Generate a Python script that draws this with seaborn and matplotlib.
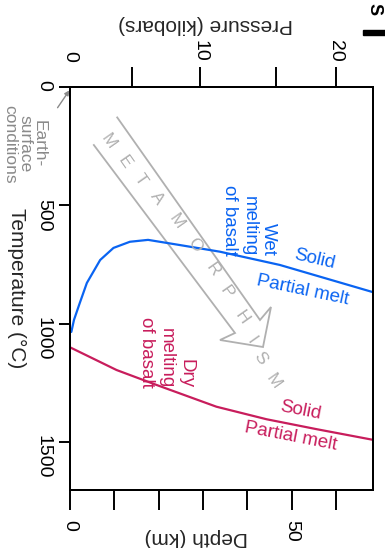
import matplotlib
matplotlib.use("Agg")

import pandas as pd
import matplotlib.pyplot as plt
import seaborn as sns
from matplotlib.patches import Polygon, Rectangle

# curvas de fusão do basalto (profundidade km, temperatura °C)
wet_depth = [0.3, 0.9, 2.2, 3.8, 6.8, 9.8, 13.5, 17.6, 24.8, 33.8, 47.3, 68.3]
wet_temp = [1035, 984, 913, 828, 731, 680, 654, 646, 668, 696, 752, 867]
dry_depth = [0, 10.5, 19.5, 33.0, 44.3, 55.6, 68.3]
dry_temp = [1100, 1196, 1259, 1351, 1404, 1446, 1491]

depth_ticks = [0, 10, 20, 30, 40, 50, 60]
depth_labels = ["0", "", "", "", "", "50", ""]
temp_ticks = [0, 500, 1000, 1500]
pressure_tick_depth = [0, 14, 29.3, 46.4, 59.9]
pressure_labels = ["0", "", "10", "", "20"]

BLUE = "#0a64f2"
RED = "#c81d5c"
GREY = "#b0b0b0"


def ref(x, y):
    """pixel da figura de referência -> fração dos eixos"""
    return ((x - 70) / 303, (490 - y) / 403)


sns.set_theme(style="ticks")
plt.rcParams["font.family"] = ["Liberation Sans", "DejaVu Sans"]
plt.rcParams["axes.edgecolor"] = "black"
plt.rcParams["xtick.color"] = "black"
plt.rcParams["ytick.color"] = "black"

df = pd.concat([
    pd.DataFrame({"depth": wet_depth, "temp": wet_temp, "curve": "wet"}),
    pd.DataFrame({"depth": dry_depth, "temp": dry_temp, "curve": "dry"}),
])

fig = plt.figure(figsize=(3.85, 5.48), dpi=100)
ax = fig.add_axes([70 / 385, 1 - 490 / 548, 303 / 385, 403 / 548])

sns.lineplot(data=df, x="depth", y="temp", hue="curve", palette={"wet": BLUE, "dry": RED},
             sort=False, estimator=None, linewidth=1.6, legend=False, ax=ax)

ax.set_xlim(0, 68.3)
ax.set_ylim(1703, 0)
ax.set_xticks(depth_ticks)
ax.set_xticklabels(depth_labels)
ax.set_yticks(temp_ticks)
ax.set_yticklabels([str(t) for t in temp_ticks])
for s in ax.spines.values():
    s.set_linewidth(1.4)
ax.tick_params(axis="y", length=8, width=1.4, labelsize=14, labelrotation=-90, pad=5)
ax.tick_params(axis="x", length=14.4, width=1.4, labelsize=14, labelrotation=-90, pad=7)

ax.set_xlabel("Depth (km)", fontsize=15, rotation=180, va="center")
ax.xaxis.set_label_coords(0.417, -0.117)
ax.set_ylabel("Temperature (°C)", fontsize=15, rotation=-90, va="center")
ax.yaxis.set_label_coords(-0.175, 0.5)

# eixo de pressão no topo
ax2 = ax.twiny()
ax2.set_xlim(ax.get_xlim())
ax2.set_xticks(pressure_tick_depth)
ax2.set_xticklabels(pressure_labels)
ax2.tick_params(axis="x", length=14.4, width=1.4, labelsize=14, labelrotation=-90, pad=3.5)
ax2.xaxis.get_major_ticks()[0].tick2line.set_visible(False)
for s in ax2.spines.values():
    s.set_linewidth(1.4)
ax2.set_xlabel("Pressure (kilobars)", fontsize=15, rotation=180, va="center")
ax2.xaxis.set_label_coords(0.446, 1.154)

# seta do metamorfismo
arrow = [ref(116.7, 116.7), ref(260, 320), ref(271, 307), ref(263, 347),
         ref(220, 340), ref(235, 333), ref(93.3, 144.3)]
ax.add_patch(Polygon(arrow, closed=False, fill=False, edgecolor=GREY, linewidth=1.3,
                     transform=ax.transAxes, clip_on=False))
letter_px = [(108.3, 141.7), (125, 161.7), (140, 180), (156.7, 198.3), (176.7, 221.7),
             (195, 245), (213.3, 270), (226.7, 291.7), (241.7, 318), (251.7, 340),
             (260, 358), (273.3, 381.7)]
for ch, (px, py) in zip("METAMORPHISM", letter_px):
    ax.text(*ref(px, py), ch, transform=ax.transAxes, rotation=-55, rotation_mode="anchor",
            ha="center", va="center", fontsize=12.5, color=GREY)

# rótulos
ax.text(*ref(249, 256), "Wet\nmelting\nof basalt", transform=ax.transAxes, rotation=-90,
        ha="center", va="bottom", multialignment="right", fontsize=13.5, color=BLUE,
        linespacing=1.2)
ax.text(*ref(166, 388), "Dry\nmelting\nof basalt", transform=ax.transAxes, rotation=-90,
        ha="center", va="bottom", multialignment="right", fontsize=13.5, color=RED,
        linespacing=1.2)
ax.text(*ref(314, 259), "Solid", transform=ax.transAxes, rotation=-13,
        ha="center", va="center", fontsize=13.5, color=BLUE)
ax.text(*ref(302.5, 290), "Partial melt", transform=ax.transAxes, rotation=-12,
        ha="center", va="center", fontsize=13.5, color=BLUE)
ax.text(*ref(300.7, 410.7), "Solid", transform=ax.transAxes, rotation=-11,
        ha="center", va="center", fontsize=13.5, color=RED)
ax.text(*ref(290.8, 436.7), "Partial melt", transform=ax.transAxes, rotation=-11,
        ha="center", va="center", fontsize=13.5, color=RED)

ax.text(*ref(24.5, 144), "Earth-\nsurface\nconditions", transform=ax.transAxes,
        rotation=-90, ha="center", va="center", multialignment="center",
        fontsize=12.5, color="#8a8a8a", linespacing=0.95)
ax.annotate("", xy=ref(71, 88), xytext=ref(56, 110), xycoords="axes fraction",
            textcoords="axes fraction", annotation_clip=False,
            arrowprops=dict(arrowstyle="-|>", color="#8a8a8a", lw=1.0, mutation_scale=7))

# resto do título no canto
fig.text(374 / 385, 1 - 9 / 548, "S", fontsize=13, fontweight="bold", rotation=-90,
         ha="center", va="center", color="black")
fig.add_artist(Rectangle((363 / 385, 1 - 35 / 548), 22 / 385, 5 / 548,
                         transform=fig.transFigure, color="black"))

fig.savefig("out.png", dpi=100)
